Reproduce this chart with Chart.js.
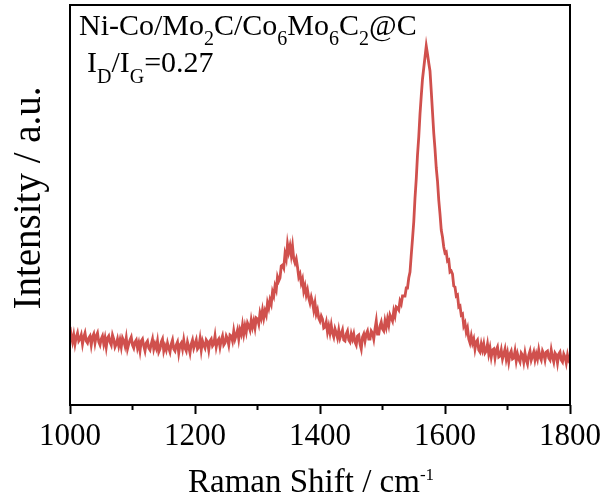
<!DOCTYPE html>
<html>
<head>
<meta charset="utf-8">
<script src="https://cdn.jsdelivr.net/npm/chart.js@4"></script>
<style>
  html, body { margin: 0; padding: 0; background: #fff; }
  canvas { display: block; }
</style>
</head>
<body>
<canvas id="raman" width="609" height="503"></canvas>
<script>
// Raman spectrum, shift in cm-1 and intensity in arbitrary units
const shift = [
  1000, 1002, 1004, 1006, 1008, 1010, 1012, 1014, 1016, 1018, 1020, 1022, 1024, 1026, 1028, 1030, 1032, 1034, 1036, 1038,
  1040, 1042, 1044, 1046, 1048, 1050, 1052, 1054, 1056, 1058, 1060, 1062, 1064, 1066, 1068, 1070, 1072, 1074, 1076, 1078,
  1080, 1082, 1084, 1086, 1088, 1090, 1092, 1094, 1096, 1098, 1100, 1102, 1104, 1106, 1108, 1110, 1112, 1114, 1116, 1118,
  1120, 1122, 1124, 1126, 1128, 1130, 1132, 1134, 1136, 1138, 1140, 1142, 1144, 1146, 1148, 1150, 1152, 1154, 1156, 1158,
  1160, 1162, 1164, 1166, 1168, 1170, 1172, 1174, 1176, 1178, 1180, 1182, 1184, 1186, 1188, 1190, 1192, 1194, 1196, 1198,
  1200, 1202, 1204, 1206, 1208, 1210, 1212, 1214, 1216, 1218, 1220, 1222, 1224, 1226, 1228, 1230, 1232, 1234, 1236, 1238,
  1240, 1242, 1244, 1246, 1248, 1250, 1252, 1254, 1256, 1258, 1260, 1262, 1264, 1266, 1268, 1270, 1272, 1274, 1276, 1278,
  1280, 1282, 1284, 1286, 1288, 1290, 1292, 1294, 1296, 1298, 1300, 1302, 1304, 1306, 1308, 1310, 1312, 1314, 1316, 1318,
  1320, 1322, 1324, 1326, 1328, 1330, 1332, 1334, 1336, 1338, 1340, 1342, 1344, 1346, 1348, 1350, 1352, 1354, 1356, 1358,
  1360, 1362, 1364, 1366, 1368, 1370, 1372, 1374, 1376, 1378, 1380, 1382, 1384, 1386, 1388, 1390, 1392, 1394, 1396, 1398,
  1400, 1402, 1404, 1406, 1408, 1410, 1412, 1414, 1416, 1418, 1420, 1422, 1424, 1426, 1428, 1430, 1432, 1434, 1436, 1438,
  1440, 1442, 1444, 1446, 1448, 1450, 1452, 1454, 1456, 1458, 1460, 1462, 1464, 1466, 1468, 1470, 1472, 1474, 1476, 1478,
  1480, 1482, 1484, 1486, 1488, 1490, 1492, 1494, 1496, 1498, 1500, 1502, 1504, 1506, 1508, 1510, 1512, 1514, 1516, 1518,
  1520, 1522, 1524, 1526, 1528, 1530, 1532, 1534, 1536, 1538, 1540, 1542, 1544, 1546, 1548, 1550, 1552, 1554, 1556, 1558,
  1560, 1562, 1564, 1566, 1568, 1570, 1572, 1574, 1576, 1578, 1580, 1582, 1584, 1586, 1588, 1590, 1592, 1594, 1596, 1598,
  1600, 1602, 1604, 1606, 1608, 1610, 1612, 1614, 1616, 1618, 1620, 1622, 1624, 1626, 1628, 1630, 1632, 1634, 1636, 1638,
  1640, 1642, 1644, 1646, 1648, 1650, 1652, 1654, 1656, 1658, 1660, 1662, 1664, 1666, 1668, 1670, 1672, 1674, 1676, 1678,
  1680, 1682, 1684, 1686, 1688, 1690, 1692, 1694, 1696, 1698, 1700, 1702, 1704, 1706, 1708, 1710, 1712, 1714, 1716, 1718,
  1720, 1722, 1724, 1726, 1728, 1730, 1732, 1734, 1736, 1738, 1740, 1742, 1744, 1746, 1748, 1750, 1752, 1754, 1756, 1758,
  1760, 1762, 1764, 1766, 1768, 1770, 1772, 1774, 1776, 1778, 1780, 1782, 1784, 1786, 1788, 1790, 1792, 1794, 1796, 1798,
  1800
]
const intensity = [
  78, 69, 63, 70, 61, 68, 72, 64, 66, 70, 61, 68, 72, 64, 62, 67, 69, 60, 68, 71,
  62, 69, 72, 63, 60, 66, 69, 61, 67, 58, 67, 69, 63, 60, 70, 66, 58, 61, 66, 59,
  65, 58, 67, 64, 59, 67, 56, 61, 65, 68, 60, 57, 63, 65, 57, 62, 54, 64, 66, 59,
  54, 62, 64, 57, 55, 61, 66, 56, 61, 57, 64, 53, 56, 63, 66, 54, 59, 55, 62, 57,
  53, 61, 65, 56, 54, 60, 63, 52, 60, 62, 56, 65, 57, 54, 63, 58, 52, 61, 65, 57,
  61, 65, 56, 58, 66, 55, 64, 60, 57, 65, 63, 55, 64, 66, 59, 61, 69, 58, 64, 66,
  58, 65, 69, 60, 62, 69, 66, 60, 70, 69, 64, 74, 66, 70, 75, 66, 75, 71, 80, 71,
  79, 73, 82, 79, 75, 85, 78, 84, 77, 87, 86, 81, 92, 87, 95, 87, 94, 90, 102, 97,
  105, 101, 113, 109, 119, 115, 128, 124, 127, 139, 140, 137, 151, 146, 161, 153, 159, 150, 159, 146,
  142, 146, 138, 128, 131, 122, 126, 114, 119, 110, 115, 107, 102, 108, 103, 95, 102, 91, 95, 87,
  84, 89, 86, 77, 78, 83, 73, 79, 72, 80, 72, 68, 76, 72, 67, 75, 67, 71, 75, 65,
  64, 71, 74, 65, 63, 71, 66, 71, 63, 60, 69, 70, 61, 56, 68, 71, 64, 71, 74, 66,
  66, 74, 72, 66, 76, 84, 71, 71, 79, 83, 76, 74, 84, 78, 86, 80, 90, 87, 84, 94,
  89, 98, 97, 95, 104, 101, 109, 109, 109, 117, 117, 127, 133, 150, 166, 183, 207, 226, 250, 268,
  291, 309, 326, 337, 348, 359, 351, 342, 334, 314, 293, 272, 256, 237, 224, 205, 191, 175, 168, 158,
  152, 153, 144, 145, 133, 134, 131, 119, 118, 109, 110, 98, 99, 90, 91, 79, 82, 73, 77, 66,
  62, 69, 62, 66, 56, 63, 65, 55, 53, 61, 55, 61, 52, 54, 61, 51, 57, 48, 55, 56,
  47, 55, 58, 48, 49, 55, 46, 51, 56, 46, 52, 43, 51, 54, 46, 47, 54, 44, 51, 46,
  43, 52, 50, 43, 52, 45, 41, 50, 54, 45, 49, 53, 45, 51, 46, 55, 48, 45, 54, 51,
  45, 53, 54, 47, 45, 55, 48, 43, 52, 50, 42, 51, 53, 45, 43, 51, 48, 42, 50, 44,
  42
]
const xTicks = [1000, 1200, 1400, 1600, 1800]
const minorTicks = [1100, 1300, 1500, 1700]

// rich text pieces: [text, 0 normal | 1 subscript | 2 superscript]
const nameParts = [['Ni-Co/Mo', 0], ['2', 1], ['C/Co', 0], ['6', 1], ['Mo', 0], ['6', 1], ['C', 0], ['2', 1], ['@C', 0]]
const ratioParts = [['I', 0], ['D', 1], ['/I', 0], ['G', 1], ['=0.27', 0]]
const xTitleParts = [['Raman Shift / cm', 0], ['-1', 2]]
const yTitle = 'Intensity / a.u.'

const serif = "'Liberation Serif', 'Times New Roman', serif"
const ctx = document.getElementById('raman').getContext('2d')

function drawRich(c, x, y, parts, size, small, drop) {
  parts.forEach(([t, kind]) => {
    c.font = (kind ? small : size) + 'px ' + serif
    const dy = kind === 1 ? drop : kind === 2 ? -drop : 0
    c.fillText(t, x, y + dy)
    x += c.measureText(t).width
  })
}

const frame = {
  id: 'frame',
  afterDraw(chart) {
    const c = chart.ctx
    const a = chart.chartArea
    const x = chart.scales.x
    c.save()
    c.strokeStyle = '#000'
    c.lineWidth = 2
    c.strokeRect(a.left, a.top, a.right - a.left, a.bottom - a.top)
    minorTicks.forEach(v => {
      const px = x.getPixelForValue(v)
      c.beginPath()
      c.moveTo(px, a.bottom)
      c.lineTo(px, a.bottom + 5)
      c.stroke()
    })
    c.fillStyle = '#000'
    c.textBaseline = 'alphabetic'
    drawRich(c, a.left + 9, 35, nameParts, 30, 20, 10)
    drawRich(c, a.left + 17, 72, ratioParts, 30, 20, 11)
    drawRich(c, 188, 492, xTitleParts, 33, 17, 12)

    // vertical axis title
    c.save()
    c.translate(30, 198)
    c.rotate(-Math.PI / 2)
    c.font = '39px ' + serif
    c.textAlign = 'center'
    c.textBaseline = 'middle'
    c.fillText(yTitle, 0, 0)
    c.restore()
    c.restore()
  }
}

new Chart(ctx, {
  type: 'line',
  data: {
    datasets: [{
      data: shift.map((s, i) => ({ x: s, y: intensity[i] })),
      borderColor: '#d0504d',
      borderWidth: 2.8,
      pointRadius: 0,
      tension: 0,
      fill: false
    }]
  },
  options: {
    responsive: false,
    animation: false,
    layout: { padding: { top: 5, right: 39, left: 0, bottom: 0 } },
    plugins: { legend: { display: false }, tooltip: { enabled: false } },
    scales: {
      x: {
        type: 'linear',
        min: 1000,
        max: 1800,
        afterBuildTicks: s => { s.ticks = xTicks.map(v => ({ value: v })) },
        afterFit: s => { s.height = 98 },
        border: { display: false },
        grid: { drawOnChartArea: false, tickLength: 9, tickWidth: 2, tickColor: '#000' },
        ticks: {
          color: '#000',
          padding: 4,
          maxRotation: 0,
          font: { family: serif, size: 31 },
          callback: v => String(v)
        },
        title: { display: false }
      },
      y: {
        min: 0,
        max: 400,
        afterFit: s => { s.width = 70 },
        border: { display: false },
        grid: { display: false },
        ticks: { display: false },
        title: { display: false }
      }
    }
  },
  plugins: [frame]
})
</script>
</body>
</html>
